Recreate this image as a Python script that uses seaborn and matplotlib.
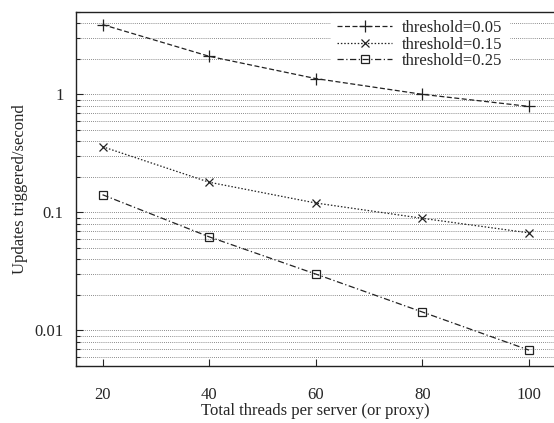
import pandas as pd
import seaborn as sns
import numpy as np
import matplotlib.pyplot as plt
from matplotlib.ticker import LogLocator, FixedLocator, NullFormatter

# data
threads = [20, 40, 60, 80, 100]
thr_005 = [3.9, 2.1, 1.36, 1.0, 0.79]
thr_015 = [0.36, 0.18, 0.12, 0.089, 0.067]
thr_025 = [0.141, 0.062, 0.030, 0.0143, 0.0068]
labels = ["threshold=0.05", "threshold=0.15", "threshold=0.25"]

df = pd.DataFrame({
    "threads": threads * 3,
    "rate": thr_005 + thr_015 + thr_025,
    "series": [labels[0]] * 5 + [labels[1]] * 5 + [labels[2]] * 5,
})

sns.set_style("ticks")
plt.rcParams['font.family'] = ['Liberation Serif', 'DejaVu Serif']

fig = plt.figure(figsize=(5.54, 4.23), dpi=100)
ax = fig.add_axes([0.137, 0.135, 0.866, 0.837])

styles = {
    labels[0]: dict(ls=(0, (4, 2)), marker='+', ms=8),
    labels[1]: dict(ls=(0, (1.2, 1.5)), marker='x', ms=6),
    labels[2]: dict(ls=(0, (5, 2, 1, 2)), marker='s', ms=6),
}

for lab in labels:
    sub = df[df.series == lab]
    st = styles[lab]
    sns.lineplot(x="threads", y="rate", data=sub, ax=ax, color='#222222',
                 linestyle=st['ls'], marker=st['marker'], markersize=st['ms'],
                 markerfacecolor='none', markeredgecolor='#222222',
                 markeredgewidth=0.9, lw=0.9, label=lab)

ax.set_yscale('log')
ax.set_xlim(15, 105)
ax.set_ylim(0.005, 5)
ax.set_xticks(threads)
ax.yaxis.set_major_locator(FixedLocator([0.01, 0.1, 1]))
ax.set_yticklabels(['0.01', '0.1', '1'])
ax.yaxis.set_minor_locator(LogLocator(base=10, subs=np.arange(2, 10)))
ax.yaxis.set_minor_formatter(NullFormatter())

ax.grid(True, axis='y', which='both', color='#666666', ls=(0, (1, 1.5)), lw=0.6)
ax.tick_params(which='both', direction='in', labelsize=12, width=0.8)
ax.tick_params(which='major', length=5)
ax.tick_params(which='minor', length=3)
ax.tick_params(axis='x', pad=15)
ax.tick_params(axis='y', pad=9)
for s in ax.spines.values():
    s.set_linewidth(1.0)
    s.set_color('#222222')

ax.set_xlabel('Total threads per server (or proxy)', fontsize=12)
ax.set_ylabel('Updates triggered/second', fontsize=12)
ax.xaxis.set_label_coords(0.5, -0.105)
ax.yaxis.set_label_coords(-0.10, 0.5)

leg = ax.legend(loc='upper right', bbox_to_anchor=(0.907, 1.0), frameon=True,
                fontsize=12, handlelength=3.3, handletextpad=0.6, borderaxespad=0.1,
                labelspacing=0.02, fancybox=False)
leg.get_frame().set_edgecolor('white')
leg.get_frame().set_alpha(1.0)

plt.savefig('out.png', dpi=100)
